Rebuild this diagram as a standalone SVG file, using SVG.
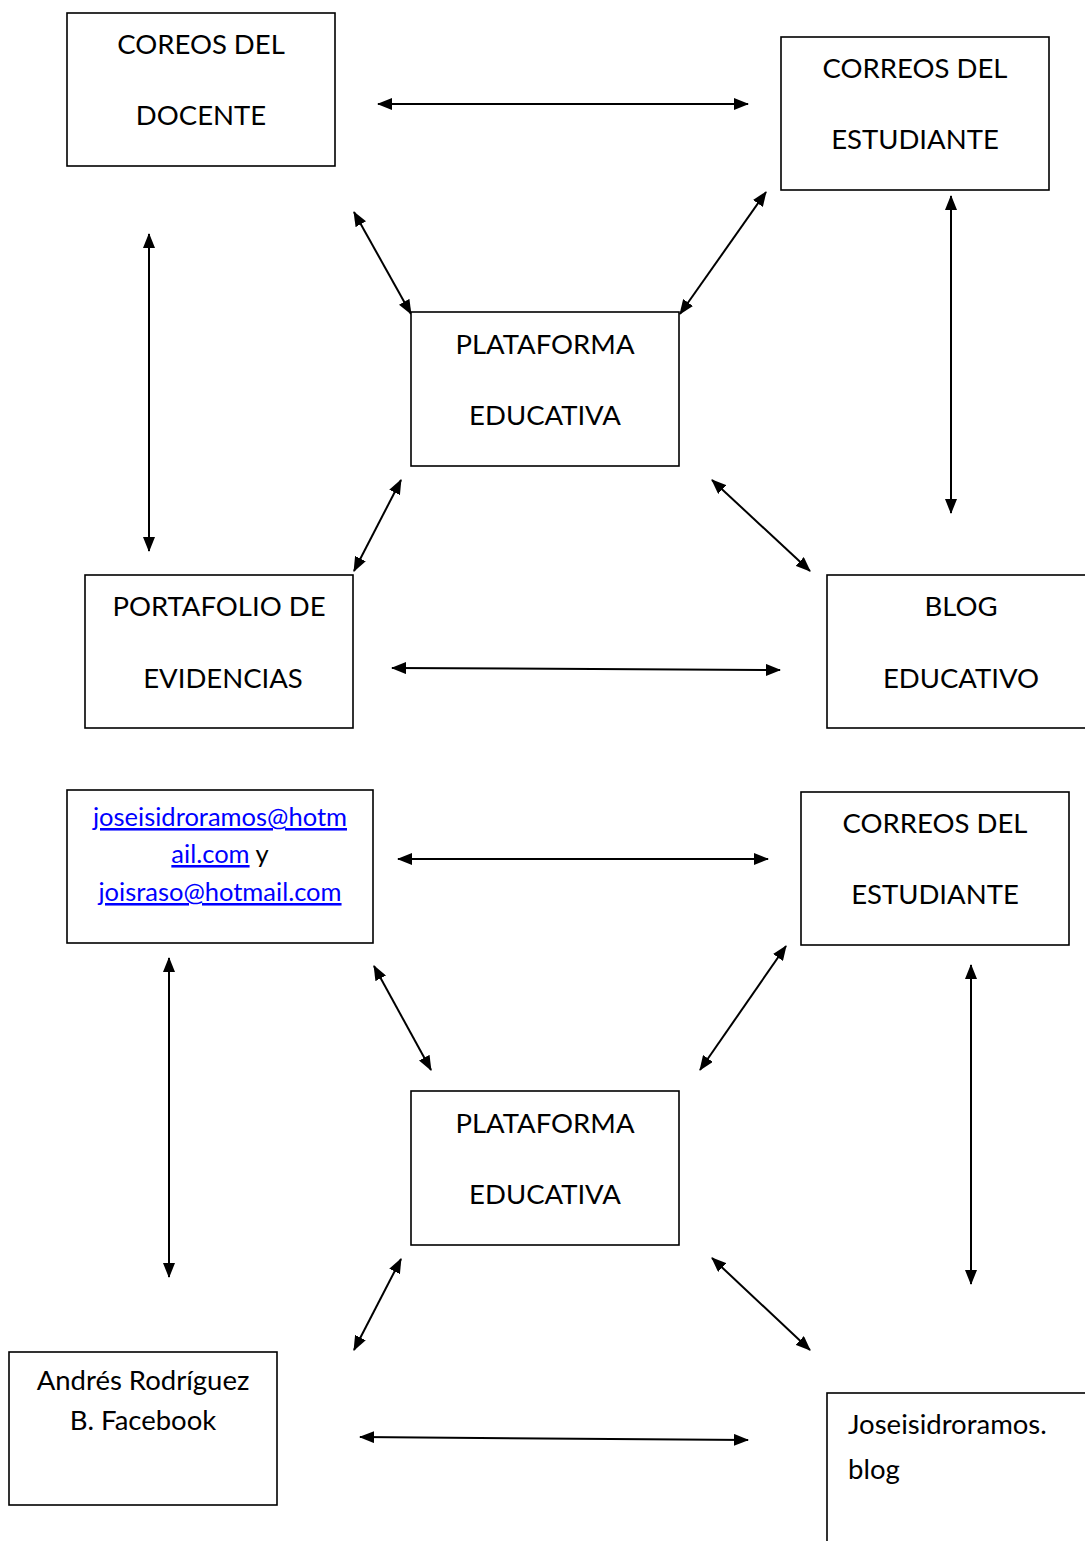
<svg xmlns="http://www.w3.org/2000/svg" width="1085" height="1541" viewBox="0 0 1085 1541">
<defs>
<marker id="ah" viewBox="0 0 15 12" refX="14" refY="6" markerWidth="15" markerHeight="12" markerUnits="userSpaceOnUse" orient="auto-start-reverse">
<path d="M0,0 L15,6 L0,12 Z" fill="#000"/>
</marker>
<style>
.box{fill:#fff;stroke:#000;stroke-width:1.6}
.t{font-family:Lato,"Open Sans","Liberation Sans",sans-serif;font-size:27.5px;fill:#000}
.e{font-size:25.5px}
.c{text-anchor:middle}
.lk{fill:#0000ff;text-decoration:underline}
.ar{stroke:#000;stroke-width:2;fill:none;marker-start:url(#ah);marker-end:url(#ah)}
</style>
</defs>
<rect width="1085" height="1541" fill="#fff"/>
<g id="connectors">
<line class="ar" x1="378" y1="104" x2="748" y2="104"/>
<line class="ar" x1="354" y1="212" x2="411" y2="314"/>
<line class="ar" x1="766" y1="192" x2="680" y2="314"/>
<line class="ar" x1="149" y1="234" x2="149" y2="551"/>
<line class="ar" x1="951" y1="196" x2="951" y2="513"/>
<line class="ar" x1="401" y1="480" x2="354" y2="571"/>
<line class="ar" x1="712" y1="480" x2="810" y2="571"/>
<line class="ar" x1="392" y1="668" x2="780" y2="670"/>
<line class="ar" x1="398" y1="859" x2="768" y2="859"/>
<line class="ar" x1="374" y1="966" x2="431" y2="1070"/>
<line class="ar" x1="786" y1="946" x2="700" y2="1070"/>
<line class="ar" x1="169" y1="958" x2="169" y2="1277"/>
<line class="ar" x1="971" y1="965" x2="971" y2="1284"/>
<line class="ar" x1="401" y1="1259" x2="354" y2="1350"/>
<line class="ar" x1="712" y1="1258" x2="810" y2="1350"/>
<line class="ar" x1="360" y1="1437" x2="748" y2="1440"/>
</g>
<g id="n1"><rect class="box" x="67" y="13" width="268" height="153"/>
<text class="t c" x="201" y="54">COREOS DEL</text><text class="t c" x="201" y="125">DOCENTE</text></g>
<g id="n2"><rect class="box" x="781" y="37" width="268" height="153"/>
<text class="t c" x="915" y="78">CORREOS DEL</text><text class="t c" x="915" y="149">ESTUDIANTE</text></g>
<g id="n3"><rect class="box" x="411" y="312" width="268" height="154"/>
<text class="t c" x="545" y="354">PLATAFORMA</text><text class="t c" x="545" y="425">EDUCATIVA</text></g>
<g id="n4"><rect class="box" x="85" y="575" width="268" height="153"/>
<text class="t c" x="219" y="616">PORTAFOLIO DE</text><text class="t c" x="223" y="688">EVIDENCIAS</text></g>
<g id="n5"><rect class="box" x="827" y="575" width="270" height="153"/>
<text class="t c" x="961" y="616">BLOG</text><text class="t c" x="961" y="688">EDUCATIVO</text></g>
<g id="n6"><rect class="box" x="67" y="790" width="306" height="153"/>
<text class="t e c lk" x="220" y="826">joseisidroramos@hotm</text>
<text class="t e c" x="220" y="863"><tspan class="lk">ail.com</tspan> y</text>
<text class="t e c lk" x="220" y="901">joisraso@hotmail.com</text></g>
<g id="n7"><rect class="box" x="801" y="792" width="268" height="153"/>
<text class="t c" x="935" y="833">CORREOS DEL</text><text class="t c" x="935" y="904">ESTUDIANTE</text></g>
<g id="n8"><rect class="box" x="411" y="1091" width="268" height="154"/>
<text class="t c" x="545" y="1133">PLATAFORMA</text><text class="t c" x="545" y="1204">EDUCATIVA</text></g>
<g id="n9"><rect class="box" x="9" y="1352" width="268" height="153"/>
<text class="t c" x="143" y="1390">Andrés Rodríguez</text><text class="t c" x="143" y="1430">B. Facebook</text></g>
<g id="n10"><rect class="box" x="827" y="1393" width="270" height="160"/>
<text class="t" x="848" y="1434">Joseisidroramos.</text><text class="t" x="848" y="1479">blog</text></g>
</svg>
